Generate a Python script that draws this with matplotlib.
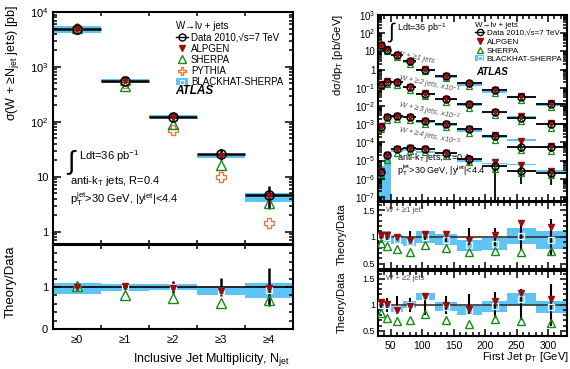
import numpy as np
import matplotlib
matplotlib.use("Agg")
import matplotlib.pyplot as plt
from matplotlib.lines import Line2D
from matplotlib.patches import Patch
from matplotlib.ticker import FixedLocator, MultipleLocator, LogLocator, NullFormatter, FuncFormatter

plt.rcParams['font.family'] = ['Liberation Sans', 'DejaVu Sans']
plt.rcParams['mathtext.fontset'] = 'custom'
plt.rcParams['mathtext.rm'] = 'Liberation Sans'
plt.rcParams['mathtext.it'] = 'Liberation Sans:italic'
plt.rcParams['mathtext.bf'] = 'Liberation Sans:bold'

BLUE = '#5ec4f4'
RED = '#9b0d0d'
GREEN = '#168a16'
ORANGE = '#e07a45'
GREY = '#555555'

# ---- left: inclusive jet multiplicity ----
mult_labels = ['≥0', '≥1', '≥2', '≥3', '≥4']
mult_data = [5000, 560, 125, 26.5, 4.7]
mult_err = [0.02, 0.07, 0.14, 0.22, 0.45]
mult_alpgen_r = [1.0, 1.02, 0.98, 0.9, 0.97]
mult_sherpa_r = [1.03, 0.82, 0.73, 0.63, 0.7]
mult_pythia = [5000, 500, 71, 9.9, 1.46]
mult_bh_lo = [0.84, 0.90, 0.94, 0.82, 0.74]
mult_bh_hi = [1.09, 1.08, 1.08, 0.98, 1.10]

# ---- right: first jet pT ----
pt_edges = [30, 40, 50, 70, 90, 120, 155, 195, 235, 280, 330]

w1_data = [23, 12.4, 6.2, 2.8, 1.0, 0.42, 0.18, 0.073, 0.030, 0.0127]
w1_err = [0.05, 0.05, 0.06, 0.10, 0.07, 0.10, 0.16, 0.17, 0.25, 0.33]
w1_alpgen_r = [1.03, 1.03, 1.0, 0.95, 1.06, 1.06, 0.94, 1.03, 1.25, 1.19]
w1_sherpa_r = [0.89, 0.82, 0.78, 0.71, 0.84, 0.80, 0.71, 0.73, 0.71, 0.73]
w1_bh_lo = [0.92, 0.90, 0.87, 0.83, 0.89, 0.85, 0.73, 0.75, 0.87, 0.78]
w1_bh_hi = [1.11, 1.10, 1.03, 0.97, 1.10, 1.05, 0.95, 0.97, 1.17, 1.10]

w2_data = [0.145, 0.22, 0.20, 0.107, 0.044, 0.0245, 0.0126, 0.0045, 0.0023, 0.0010]
w2_err = [0.10, 0.13, 0.17, 0.14, 0.20, 0.17, 0.20, 0.25, 0.30, 0.40]
w2_alpgen_r = [1.05, 1.01, 0.90, 0.97, 1.17, 0.99, 0.91, 1.07, 1.23, 1.11]
w2_sherpa_r = [0.85, 0.75, 0.68, 0.71, 0.83, 0.70, 0.63, 0.72, 0.68, 0.65]
w2_bh_lo = [0.90, 0.91, 0.87, 0.93, 1.09, 0.88, 0.80, 0.87, 1.00, 0.85]
w2_bh_hi = [1.10, 1.07, 0.97, 1.07, 1.23, 1.05, 0.97, 1.07, 1.23, 1.08]

w3_data = [7.2e-4, 2.4e-3, 2.9e-3, 2.6e-3, 1.55e-3, 1.0e-3, 5.1e-4, 2.2e-4, 5.6e-5, 5.6e-5]
w3_err = [0.20, 0.15, 0.15, 0.15, 0.20, 0.20, 0.25, 0.30, 0.50, 0.50]
w3_alpgen_r = [1.1, 1.05, 1.0, 1.0, 1.0, 1.0, 1.1, 1.15, 2.2, 1.15]
w3_sherpa_r = [0.75, 0.7, 0.7, 0.68, 0.7, 0.68, 0.65, 0.65, 0.7, 0.6]
w3_bh_lo = [0.8, 0.8, 0.8, 0.8, 0.75, 0.75, 0.75, 0.8, 2.0, 0.85]
w3_bh_hi = [1.15, 1.1, 1.05, 1.05, 1.0, 1.0, 1.0, 1.05, 2.6, 1.2]

w4_data = [2.5e-6, 1.9e-5, 4.1e-5, 5.2e-5, 4.6e-5, 2.6e-5, 1.2e-5, 4.8e-6, 2.7e-6, 2.2e-6]
w4_err = [0.5, 0.3, 0.2, 0.2, 0.25, 0.3, 0.6, 1.0, 0.8, 0.8]
w4_alpgen_r = [1.1, 1.1, 1.05, 1.0, 1.0, 1.0, 1.05, 1.7, 2.0, 1.2]
w4_sherpa_r = [0.7, 0.6, 0.65, 0.65, 0.65, 0.65, 0.7, 0.7, 0.75, 0.7]
w4_bh_lo = [0.001, 0.001, 0.75, 0.65, 0.6, 0.65, 0.7, 1.3, 2.0, 1.1]
w4_bh_hi = [2.0, 1.2, 0.9, 0.8, 0.75, 0.8, 0.9, 1.6, 2.5, 1.4]

W, H = 570, 369
fig = plt.figure(figsize=(W / 100, H / 100), dpi=100)


def box(x0, y0, x1, y1):
    return [x0 / W, (H - y1) / H, (x1 - x0) / W, (y1 - y0) / H]


def style(ax):
    for s in ax.spines.values():
        s.set_linewidth(1.5)
    ax.tick_params(which='both', direction='in', top=True, right=True, width=1.1)
    ax.tick_params(which='major', length=6)
    ax.tick_params(which='minor', length=3)


def log_fmt(v, pos):
    e = int(round(np.log10(v)))
    if e == 0:
        return '1'
    if e == 1:
        return '10'
    return '$10^{%d}$' % e


def bh_handle():
    return (Patch(facecolor=BLUE, edgecolor='none'),
            Line2D([], [], marker='s', ls='none', mfc='none', mec='white', ms=3.5, mew=0.8))


# ================= left main =================
ax = fig.add_axes(box(53, 12, 293, 244))
style(ax)
nx = np.arange(len(mult_labels))
d = np.array(mult_data)
ax.bar(nx - 0.5, d * (np.array(mult_bh_hi) - np.array(mult_bh_lo)), bottom=d * np.array(mult_bh_lo),
       width=1, align='edge', color=BLUE, lw=0, zorder=1)
ax.errorbar(nx, d, xerr=0.5, yerr=d * np.array(mult_err), fmt='none', ecolor='k',
            elinewidth=1.8, capsize=0, zorder=2)
ax.plot(nx, mult_pythia, 'P', mfc='none', mec=ORANGE, ms=6.5, mew=1, ls='none', zorder=3)
ax.plot(nx, d * np.array(mult_sherpa_r), '^', mfc='none', mec=GREEN, ms=6.5, mew=1, ls='none', zorder=4)
ax.plot(nx, d * np.array(mult_alpgen_r), 'v', color=RED, ms=5, ls='none', zorder=5)
ax.plot(nx, d, 'o', mfc='none', mec='k', ms=6.5, mew=1.2, ls='none', zorder=6)
ax.set_yscale('log')
ax.set_ylim(0.6, 1e4)
ax.set_xlim(-0.5, 4.5)
ax.yaxis.set_major_formatter(FuncFormatter(log_fmt))
ax.yaxis.set_minor_formatter(NullFormatter())
ax.set_xticks(nx)
ax.set_xticklabels([])
ax.xaxis.set_minor_locator(FixedLocator(nx[:-1] + 0.5))
ax.tick_params(axis='x', which='major', length=0)
ax.tick_params(axis='y', labelsize=8)
ax.set_ylabel('σ(W + ≥N$_{\\rm jet}$ jets) [pb]', fontsize=9)
ax.yaxis.set_label_coords(-0.135, 0.78)

handles = [Line2D([], [], color='k', marker='o', mfc='none', mec='k', lw=1, ms=5),
           Line2D([], [], marker='v', color=RED, ls='none', ms=5),
           Line2D([], [], marker='^', mfc='none', mec=GREEN, ls='none', ms=6),
           Line2D([], [], marker='P', mfc='none', mec=ORANGE, ls='none', ms=6),
           bh_handle()]
labels = ['Data 2010,√s=7 TeV', 'ALPGEN', 'SHERPA', 'PYTHIA', 'BLACKHAT-SHERPA']
ax.legend(handles, labels, loc='upper left', bbox_to_anchor=(0.49, 0.985), frameon=False,
          fontsize=7, title='W→lν + jets', title_fontsize=7, alignment='left',
          handlelength=1.2, handletextpad=0.3, labelspacing=0.12, borderpad=0.1)
ax.text(0.51, 0.645, 'ATLAS', transform=ax.transAxes, fontsize=8.5, fontweight='bold',
        fontstyle='italic')
ax.text(0.06, 0.355, '∫', transform=ax.transAxes, fontsize=19, va='center')
ax.text(0.11, 0.38, 'Ldt=36 pb$^{-1}$', transform=ax.transAxes, fontsize=8, va='center')
ax.text(0.07, 0.27, 'anti-k$_{\\rm T}$ jets, R=0.4', transform=ax.transAxes, fontsize=8, va='center')
ax.text(0.07, 0.195, 'p$_{\\rm T}^{\\rm jet}$>30 GeV, |y$^{\\rm jet}$|<4.4', transform=ax.transAxes,
        fontsize=8, va='center')

# ================= left ratio =================
ar = fig.add_axes(box(53, 245, 293, 329))
style(ar)
ar.bar(nx - 0.5, np.array(mult_bh_hi) - np.array(mult_bh_lo), bottom=mult_bh_lo, width=1,
       align='edge', color=BLUE, lw=0, zorder=1)
ar.axhline(1, color='k', lw=1.2, zorder=2)
ar.errorbar(nx, np.ones(len(nx)), yerr=mult_err, fmt='none', ecolor='k', elinewidth=1.8,
            capsize=0, zorder=3)
ar.plot(nx, (np.array(mult_bh_lo) + np.array(mult_bh_hi)) / 2, 's', mfc='none', mec='#e8f6ff',
        ms=5, mew=1, ls='none', zorder=3)
ar.plot(nx, mult_sherpa_r, '^', mfc='none', mec=GREEN, ms=6.5, mew=1, ls='none', zorder=4)
ar.plot(nx, mult_alpgen_r, 'v', color=RED, ms=5, ls='none', zorder=5)
ar.set_xlim(-0.5, 4.5)
ar.set_ylim(0, 2)
ar.set_yticks([0, 1, 2])
ar.set_yticklabels(['0', '1', ''])
ar.yaxis.set_minor_locator(MultipleLocator(0.2))
ar.set_xticks(nx)
ar.set_xticklabels(mult_labels, fontsize=8)
ar.xaxis.set_minor_locator(FixedLocator(nx[:-1] + 0.5))
ar.tick_params(axis='x', which='major', length=0, pad=4)
ar.tick_params(axis='y', labelsize=8)
ar.set_ylabel('Theory/Data', fontsize=9.5)
ar.yaxis.set_label_coords(-0.15, 0.56)
ar.set_xlabel('Inclusive Jet Multiplicity, N$_{\\rm jet}$', fontsize=9, loc='right')
ar.xaxis.set_label_coords(0.99, -0.26)

# ================= right main =================
edges = np.array(pt_edges, dtype=float)
xc = (edges[:-1] + edges[1:]) / 2
xw = np.diff(edges)

am = fig.add_axes(box(378, 15, 567, 201))
style(am)
series = [
    (w1_data, w1_err, w1_alpgen_r, w1_sherpa_r, w1_bh_lo, w1_bh_hi),
    (w2_data, w2_err, w2_alpgen_r, w2_sherpa_r, w2_bh_lo, w2_bh_hi),
    (w3_data, w3_err, w3_alpgen_r, w3_sherpa_r, w3_bh_lo, w3_bh_hi),
    (w4_data, w4_err, w4_alpgen_r, w4_sherpa_r, w4_bh_lo, w4_bh_hi),
]
for dat, err, alp, she, lo, hi in series:
    d = np.array(dat)
    e = np.array(err)
    lo = np.array(lo)
    hi = np.array(hi)
    am.bar(edges[:-1], d * (hi - lo), bottom=d * lo, width=xw, align='edge', color=BLUE, lw=0, zorder=1)
    low = d - np.maximum(d * (1 - e), 1e-10)
    am.errorbar(xc, d, xerr=xw / 2, yerr=[low, d * e], fmt='none', ecolor='k', elinewidth=1.3,
                capsize=0, zorder=2)
    am.plot(xc, d * np.array(she), '^', mfc='none', mec=GREEN, ms=5, mew=0.9, ls='none', zorder=4)
    am.plot(xc, d * np.array(alp), 'v', color=RED, ms=4, ls='none', zorder=5)
    am.plot(xc, d, 'o', mfc='none', mec='k', ms=5, mew=1.1, ls='none', zorder=6)
am.set_yscale('log')
am.set_ylim(6e-8, 1e3)
am.set_xlim(30, 330)
am.yaxis.set_major_locator(LogLocator(base=10, numticks=20))
am.yaxis.set_minor_locator(LogLocator(base=10, subs=np.arange(2, 10), numticks=20))
am.yaxis.set_major_formatter(FuncFormatter(log_fmt))
am.yaxis.set_minor_formatter(NullFormatter())
am.xaxis.set_major_locator(MultipleLocator(50))
am.xaxis.set_minor_locator(MultipleLocator(10))
am.set_xticklabels([])
am.tick_params(axis='y', labelsize=7, pad=2)
am.tick_params(which='major', length=5)
am.set_ylabel('dσ/dp$_{\\rm T}$ [pb/GeV]', fontsize=8)
am.yaxis.set_label_coords(-0.175, 0.785)

handles = [Line2D([], [], color='k', marker='o', mfc='none', mec='k', lw=1, ms=4.5),
           Line2D([], [], marker='v', color=RED, ls='none', ms=4.5),
           Line2D([], [], marker='^', mfc='none', mec=GREEN, ls='none', ms=5),
           bh_handle()]
labels = ['Data 2010,√s=7 TeV', 'ALPGEN', 'SHERPA', 'BLACKHAT-SHERPA']
am.legend(handles, labels, loc='upper left', bbox_to_anchor=(0.49, 0.99), frameon=False,
          fontsize=5.8, title='W→lν + jets', title_fontsize=5.8, alignment='left',
          handlelength=1.1, handletextpad=0.3, labelspacing=0.12, borderpad=0.1)
am.text(0.52, 0.675, 'ATLAS', transform=am.transAxes, fontsize=7, fontweight='bold', fontstyle='italic')
am.text(0.055, 0.91, '∫', transform=am.transAxes, fontsize=15, va='center')
am.text(0.1, 0.93, 'Ldt=36 pb$^{-1}$', transform=am.transAxes, fontsize=6.5, va='center')
am.text(0.1, 0.235, 'anti-k$_{\\rm T}$ jets, R=0.4', transform=am.transAxes, fontsize=6.5, va='center')
am.text(0.1, 0.165, 'p$_{\\rm T}^{\\rm jet}$>30 GeV, |y$^{\\rm jet}$|<4.4', transform=am.transAxes,
        fontsize=6.5, va='center')
tags = [('W + ≥1 jets', 0.2, 0.77), ('W + ≥2 jets, x10$^{-1}$', 0.27, 0.625),
        ('W + ≥3 jets, x10$^{-2}$', 0.27, 0.48), ('W + ≥4 jets, x10$^{-3}$', 0.27, 0.345)]
for txt, tx, ty in tags:
    am.text(tx, ty, txt, transform=am.transAxes, fontsize=5.5, color=GREY, fontstyle='italic',
            rotation=-12, ha='center', va='center', rotation_mode='anchor')

# ================= right ratio panels =================
ratio_panels = [
    (box(378, 202, 567, 269), 'W + ≥1 jet', w1_err, w1_alpgen_r, w1_sherpa_r, w1_bh_lo, w1_bh_hi),
    (box(378, 271, 567, 336), 'W + ≥2 jets', w2_err, w2_alpgen_r, w2_sherpa_r, w2_bh_lo, w2_bh_hi),
]
for i, (rect, tag, err, alp, she, lo, hi) in enumerate(ratio_panels):
    a = fig.add_axes(rect)
    style(a)
    lo = np.array(lo)
    hi = np.array(hi)
    a.bar(edges[:-1], hi - lo, bottom=lo, width=xw, align='edge', color=BLUE, lw=0, zorder=1)
    a.axhline(1, color='#333333', lw=1.2, zorder=2)
    a.errorbar(xc, np.ones(len(xc)), yerr=err, fmt='none', ecolor='k', elinewidth=1.5, capsize=0, zorder=3)
    a.plot(xc, (lo + hi) / 2, 's', mfc='none', mec='#e8f6ff', ms=5, mew=1, ls='none', zorder=3)
    a.plot(xc, she, '^', mfc='none', mec=GREEN, ms=5.5, mew=1, ls='none', zorder=4)
    a.plot(xc, alp, 'v', color=RED, ms=5, ls='none', zorder=5)
    a.set_xlim(30, 330)
    a.set_ylim(0.4, 1.65)
    a.set_yticks([0.5, 1, 1.5])
    a.set_yticklabels(['0.5', '1', '1.5'])
    a.yaxis.set_minor_locator(MultipleLocator(0.1))
    a.xaxis.set_major_locator(MultipleLocator(50))
    a.xaxis.set_minor_locator(MultipleLocator(10))
    a.tick_params(axis='y', labelsize=6.5, pad=2)
    a.tick_params(which='major', length=5)
    a.set_ylabel('Theory/Data', fontsize=8)
    a.yaxis.set_label_coords(-0.165, 0.52)
    a.text(0.04, 0.88, tag, transform=a.transAxes, fontsize=5.5, color=GREY, va='center')
    if i == 0:
        a.set_xticklabels([])
    else:
        a.tick_params(axis='x', labelsize=7.5)
        a.set_xlabel('First Jet p$_{\\rm T}$ [GeV]', fontsize=8, loc='right')
        a.xaxis.set_label_coords(1.01, -0.22)

fig.savefig('out.png', dpi=100)
